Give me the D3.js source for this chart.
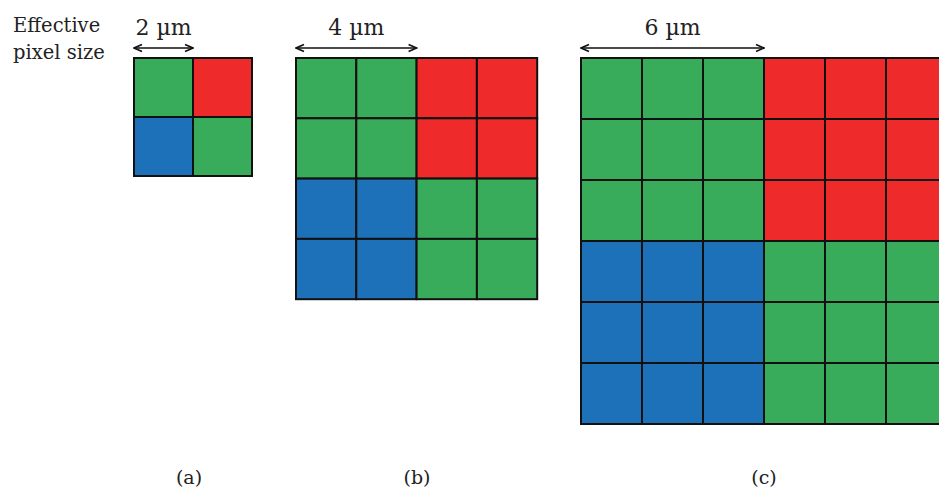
<!DOCTYPE html>
<html>
<head>
<meta charset="utf-8">
<script src="https://cdn.jsdelivr.net/npm/d3@7"></script>
<style>
  body { margin: 0; background: #fff; }
</style>
</head>
<body>
<div id="chart"></div>
<script>
// Binning factor of each panel (cells per colour block) and its labels
var panels = ["(a)", "(b)", "(c)"];
var binning = [1, 2, 3];
var pixelSize = ["2 \u00b5m", "4 \u00b5m", "6 \u00b5m"];
// Bayer pattern, rows of the 2x2 super pixel
var bayer = [["G", "R"], ["B", "G"]];
var colors = { G: "#38ac5a", R: "#ee2a2a", B: "#1c71b8" };

var width = 939, height = 491;
var serif = "'DejaVu Serif', serif";

// layout of each panel: left edge, cell size, label centre
var layout = [
  { x: 134, cell: 59, lx: 189 },
  { x: 296, cell: 60.3, lx: 417 },
  { x: 581, cell: 61, lx: 764 }
];
var top0 = 58;

var svg = d3.select("#chart").append("svg")
    .attr("width", width)
    .attr("height", height);

svg.append("defs").append("marker")
    .attr("id", "head")
    .attr("viewBox", "0 0 10 10")
    .attr("refX", 9)
    .attr("refY", 5)
    .attr("markerWidth", 10)
    .attr("markerHeight", 10)
    .attr("markerUnits", "userSpaceOnUse")
    .attr("orient", "auto-start-reverse")
  .append("path")
    .attr("d", "M1,1.5 L9,5 L1,8.5")
    .attr("fill", "none")
    .attr("stroke", "#111")
    .attr("stroke-width", 1.6);

function label(x, y, size, str, anchor) {
  return svg.append("text")
      .attr("x", x).attr("y", y)
      .attr("font-family", serif)
      .attr("font-size", size)
      .attr("fill", "#222")
      .attr("text-anchor", anchor || "start")
      .text(str);
}

label(13, 32, 19.5, "Effective");
label(13, 59, 19.5, "pixel size");

binning.forEach(function (k, p) {
  var L = layout[p];
  var n = 2 * k;
  var x = d3.scaleLinear().domain([0, n]).range([L.x, L.x + n * L.cell]);
  var y = d3.scaleLinear().domain([0, n]).range([top0, top0 + n * L.cell]);

  var cells = [];
  for (var r = 0; r < n; r++) {
    for (var c = 0; c < n; c++) {
      cells.push({ r: r, c: c, ch: bayer[Math.floor(r / k)][Math.floor(c / k)] });
    }
  }

  var g = svg.append("g");
  g.selectAll("rect")
      .data(cells)
    .enter().append("rect")
      .attr("x", function (d) { return x(d.c); })
      .attr("y", function (d) { return y(d.r); })
      .attr("width", x(1) - x(0))
      .attr("height", y(1) - y(0))
      .attr("fill", function (d) { return colors[d.ch]; })
      .attr("stroke", "#111")
      .attr("stroke-width", 2);

  // arrow spanning one colour block
  g.append("line")
      .attr("x1", x(0)).attr("x2", x(k))
      .attr("y1", 48).attr("y2", 48)
      .attr("stroke", "#111")
      .attr("stroke-width", 1.6)
      .attr("marker-start", "url(#head)")
      .attr("marker-end", "url(#head)");

  label((x(0) + x(k)) / 2, 35, 22, pixelSize[p], "middle");
  label(L.lx, 484, 19, panels[p], "middle");
});
</script>
</body>
</html>
